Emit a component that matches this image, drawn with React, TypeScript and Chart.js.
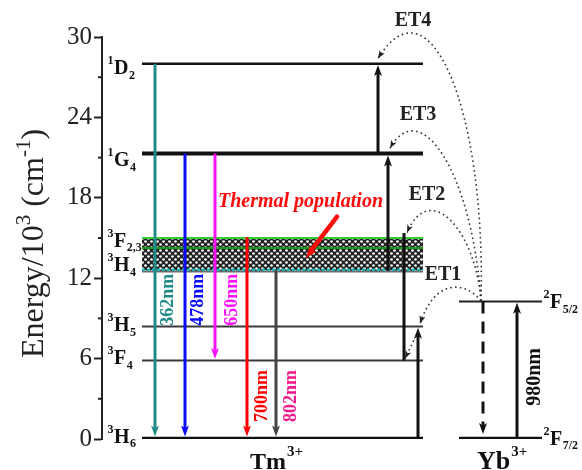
import React, { useEffect, useRef } from "react";
import { Chart, registerables } from "chart.js";
Chart.register(...registerables);

const SERIF = '"Liberation Serif", "Times New Roman", serif';

// ---------------- data ----------------
const yTickValues = [0, 6, 12, 18, 24, 30];
const yMinorValues = [3, 9, 15, 21, 27];

// Tm3+ energy levels (10^3 cm^-1); ids are sup + term + sub
const tmLevels = ["3H6", "3F4", "3H5", "3H4", "3F2,3", "1G4", "1D2"];
const tmEnergies = [0, 5.85, 8.4, 12.55, 15.0, 21.3, 28.0];
const bandSplitEnergy = 14.25;

// Yb3+ levels
const ybLevels = ["2F7/2", "2F5/2"];
const ybEnergies = [0, 10.26];

// radiative emissions of Tm3+
const emissionLabels = ["362nm", "478nm", "650nm", "700nm", "802nm"];
const emissionUpper = ["1D2", "1G4", "1G4", "3F2,3", "3H4"];
const emissionLower = ["3H6", "3H6", "3F4", "3H6", "3H6"];

// energy transfer steps Yb -> Tm
const etLabels = ["ET1", "ET2", "ET3", "ET4"];
const etLower = ["3H6", "3F4", "3H4", "1G4"];
const etUpper = ["3H5", "3F2,3", "1G4", "1D2"];

const pumpLabel = "980nm";
const thermalLabel = "Thermal population";
const ionLabels = ["Tm", "Yb"];

// ---------------- layout / styles (plot x units, 0..470) ----------------
const L = {
  tmSpan: [40, 321],
  ybSpan: [357, 440],
  emissionX: [53, 83, 113, 145, 174],
  emissionColor: ["#1f8a86", "#0a0aff", "#ff10ff", "#ff0000", "#454545"],
  emissionTextColor: ["#1f8a86", "#0a0aff", "#ff10ff", "#ff0000", "#f0188c"],
  emissionLabelX: [66, 96, 130, 160, 189],
  emissionLabelE: [10.4, 10.4, 10.4, 3.2, 3.2],
  etX: [316, 302, 286, 276],
  etLabelPos: [[341, 12.25], [325, 18.2], [316, 24.2], [311, 31.2]],
  etArcs: [
    [[379, 10.3], [363, 11.8], [333, 12.0], [318, 8.6]],
    [[379, 10.3], [374, 15.5], [328, 19.4], [305, 15.4]],
    [[379, 10.3], [370, 20.0], [318, 25.7], [288, 21.7]],
    [[379, 10.3], [384, 24.5], [328, 34.7], [276, 28.4]],
  ],
  relax: [[316, 8.0], [303, 6.0]],
  ybDownX: 381,
  ybUpX: 415,
  pumpLabelPos: [433, 4.63],
  thermalPos: [116, 17.34],
  thermalArrow: [[235, 16.6], [204, 13.5]],
  ionPos: [[148, -2.25], [375, -2.25]],
  levelWidth: { "3H6": 4.5, "3F4": 2, "3H5": 2, "1G4": 4, "1D2": 2.5, "2F7/2": 4.5, "2F5/2": 2 },
  levelColor: { "3H6": "#111", "3F4": "#3a3a3a", "3H5": "#3a3a3a", "1G4": "#111", "1D2": "#111", "2F7/2": "#111", "2F5/2": "#222" },
  labelOffsetPx: { "3H6": -3, "3F4": -3, "3H5": -2, "3H4": -6, "3F2,3": 2, "1G4": 6, "1D2": 3.5 },
};

const E = (id: string) => {
  const i = tmLevels.indexOf(id);
  return i >= 0 ? tmEnergies[i] : ybEnergies[ybLevels.indexOf(id)];
};

function splitTerm(id: string) {
  return { sup: id[0], main: id[1], sub: id.slice(2) };
}

function drawTerm(ctx: CanvasRenderingContext2D, x: number, cy: number, id: string, mainSize: number, small: number) {
  const { sup, main, sub } = splitTerm(id);
  const base = cy + mainSize * 0.33;
  ctx.textBaseline = "alphabetic";
  ctx.textAlign = "left";
  ctx.fillStyle = "#111";
  ctx.font = `bold ${small}px ${SERIF}`;
  const sw = ctx.measureText(sup).width;
  ctx.fillText(sup, x - sw - 0.5, base - mainSize * 0.5);
  ctx.font = `bold ${mainSize}px ${SERIF}`;
  ctx.fillText(main, x, base);
  const mw = ctx.measureText(main).width;
  ctx.font = `bold ${small}px ${SERIF}`;
  ctx.fillText(sub, x + mw + 0.5, base + small * 0.4);
}

function arrowV(ctx: CanvasRenderingContext2D, x: number, y0: number, y1: number, color: string, lw: number, head = 11, hw = 8, dash?: number[]) {
  const dir = Math.sign(y1 - y0);
  ctx.save();
  ctx.strokeStyle = color;
  ctx.fillStyle = color;
  ctx.lineWidth = lw;
  if (dash) ctx.setLineDash(dash);
  ctx.beginPath();
  ctx.moveTo(x, y0);
  ctx.lineTo(x, y1 - dir * head * 0.7);
  ctx.stroke();
  ctx.setLineDash([]);
  ctx.beginPath();
  ctx.moveTo(x, y1);
  ctx.lineTo(x - hw / 2, y1 - dir * head);
  ctx.lineTo(x, y1 - dir * head * 0.75);
  ctx.lineTo(x + hw / 2, y1 - dir * head);
  ctx.closePath();
  ctx.fill();
  ctx.restore();
}

function headAt(ctx: CanvasRenderingContext2D, fx: number, fy: number, tx: number, ty: number, len: number, hw: number, color: string) {
  const a = Math.atan2(ty - fy, tx - fx);
  ctx.save();
  ctx.fillStyle = color;
  ctx.translate(tx, ty);
  ctx.rotate(a);
  ctx.beginPath();
  ctx.moveTo(0, 0);
  ctx.lineTo(-len, -hw);
  ctx.lineTo(-len * 0.75, 0);
  ctx.lineTo(-len, hw);
  ctx.closePath();
  ctx.fill();
  ctx.restore();
}

function vText(ctx: CanvasRenderingContext2D, text: string, x: number, y: number, font: string, color: string) {
  ctx.save();
  ctx.translate(x, y);
  ctx.rotate(-Math.PI / 2);
  ctx.font = font;
  ctx.fillStyle = color;
  ctx.textAlign = "center";
  ctx.textBaseline = "middle";
  ctx.fillText(text, 0, 0);
  ctx.restore();
}

function makePattern(ctx: CanvasRenderingContext2D) {
  const c = document.createElement("canvas");
  c.width = 6;
  c.height = 6;
  const p = c.getContext("2d")!;
  p.fillStyle = "#222";
  p.fillRect(0, 0, 6, 6);
  p.fillStyle = "#ffffff";
  for (const [cx, cy] of [[1.5, 1.5], [4.5, 4.5]]) {
    p.beginPath();
    p.arc(cx, cy, 1.35, 0, Math.PI * 2);
    p.fill();
  }
  return ctx.createPattern(c, "repeat")!;
}

const diagramPlugin = {
  id: "diagram",
  beforeDatasetsDraw(chart: any) {
    const { ctx } = chart;
    const xs = chart.scales.x, ys = chart.scales.y;
    const px = (v: number) => xs.getPixelForValue(v);
    const py = (v: number) => ys.getPixelForValue(v);
    const x0 = px(L.tmSpan[0]), x1 = px(L.tmSpan[1]);
    const top = py(E("3F2,3")), bot = py(E("3H4"));
    ctx.save();
    ctx.fillStyle = makePattern(ctx);
    ctx.fillRect(x0, top, x1 - x0, bot - top);
    ctx.lineWidth = 2;
    ctx.strokeStyle = "#2fcf2f";
    ctx.beginPath(); ctx.moveTo(x0, top); ctx.lineTo(x1, top); ctx.stroke();
    ctx.strokeStyle = "#169a16";
    ctx.beginPath(); ctx.moveTo(x0, py(bandSplitEnergy)); ctx.lineTo(x1, py(bandSplitEnergy)); ctx.stroke();
    ctx.strokeStyle = "#222";
    ctx.lineWidth = 1;
    ctx.beginPath(); ctx.moveTo(x0, bot + 1); ctx.lineTo(x1, bot + 1); ctx.stroke();
    ctx.strokeStyle = "#1bb8b8";
    ctx.lineWidth = 2.5;
    ctx.setLineDash([3, 2]);
    ctx.beginPath(); ctx.moveTo(x0, bot - 1); ctx.lineTo(x1, bot - 1); ctx.stroke();
    ctx.restore();
  },
  afterDatasetsDraw(chart: any) {
    const { ctx } = chart;
    const xs = chart.scales.x, ys = chart.scales.y;
    const px = (v: number) => xs.getPixelForValue(v);
    const py = (v: number) => ys.getPixelForValue(v);

    // minor ticks
    ctx.save();
    ctx.strokeStyle = "#222";
    ctx.lineWidth = 2;
    for (const v of yMinorValues) {
      ctx.beginPath();
      ctx.moveTo(chart.chartArea.left - 4, py(v));
      ctx.lineTo(chart.chartArea.left, py(v));
      ctx.stroke();
    }
    ctx.restore();

    // axis title
    ctx.save();
    ctx.translate(43, 243.5);
    ctx.rotate(-Math.PI / 2);
    ctx.fillStyle = "#222";
    ctx.textBaseline = "alphabetic";
    ctx.textAlign = "left";
    const big = `32px ${SERIF}`, sm = `21px ${SERIF}`;
    const parts: [string, string, number][] = [["Energy/10", big, 0], ["3", sm, -13], [" (cm", big, 0], ["-1", sm, -13], [")", big, 0]];
    let tw = 0;
    for (const [t, f] of parts) { ctx.font = f; tw += ctx.measureText(t).width; }
    let cx = -tw / 2;
    for (const [t, f, dy] of parts) { ctx.font = f; ctx.fillText(t, cx, dy); cx += ctx.measureText(t).width; }
    ctx.restore();

    // level labels
    tmLevels.forEach((id, i) => {
      drawTerm(ctx, 114, py(tmEnergies[i]) + (L.labelOffsetPx as any)[id], id, 20, 12);
    });
    ybLevels.forEach((id, i) => {
      drawTerm(ctx, 550, py(ybEnergies[i]) + (i === 0 ? -1 : 0), id, 20, 12);
    });

    // emission arrows
    emissionLabels.forEach((lab, i) => {
      const x = px(L.emissionX[i]);
      const up = E(emissionUpper[i]);
      const lo = E(emissionLower[i]);
      const yStart = py(up) + (emissionUpper[i] === "3F2,3" ? -1 : 0);
      const yEnd = py(lo) - (emissionLower[i] === "3H6" ? 2.5 : 1.5);
      arrowV(ctx, x, yStart, yEnd, L.emissionColor[i], 3, 11, 8);
      vText(ctx, lab, px(L.emissionLabelX[i]), py(L.emissionLabelE[i]), `bold 18px ${SERIF}`, L.emissionTextColor[i]);
    });

    // ET up arrows
    etLabels.forEach((lab, i) => {
      const x = px(L.etX[i]);
      const lo = py(E(etLower[i]));
      const hi = py(E(etUpper[i]));
      if (lab === "ET2") {
        ctx.save();
        ctx.strokeStyle = "#111";
        ctx.lineWidth = 3;
        ctx.beginPath(); ctx.moveTo(x, lo); ctx.lineTo(x, hi - 5); ctx.stroke();
        ctx.restore();
      } else {
        const tipOff = etUpper[i] === "1G4" ? 2 : 1.2;
        arrowV(ctx, x, lo, hi + tipOff, "#111", 3, 11, 8);
      }
    });

    // dotted ET arcs
    L.etArcs.forEach((pts, i) => {
      const P = pts.map(([a, b]) => [px(a), py(b)]);
      ctx.save();
      ctx.strokeStyle = "#333";
      ctx.lineWidth = 1.6;
      ctx.setLineDash([1.6, 3.2]);
      ctx.beginPath();
      ctx.moveTo(P[0][0], P[0][1]);
      ctx.bezierCurveTo(P[1][0], P[1][1], P[2][0], P[2][1], P[3][0], P[3][1]);
      ctx.stroke();
      ctx.restore();
      headAt(ctx, P[2][0], P[2][1], P[3][0], P[3][1], 8, 3, "#222");
      const [lx, le] = L.etLabelPos[i];
      ctx.save();
      ctx.font = `bold 20px ${SERIF}`;
      ctx.fillStyle = "#222";
      ctx.textAlign = "center";
      ctx.textBaseline = "middle";
      ctx.fillText(etLabels[i], px(lx), py(le));
      ctx.restore();
    });
    // relaxation dotted
    {
      const [[a, b], [c, d]] = L.relax;
      ctx.save();
      ctx.strokeStyle = "#333";
      ctx.lineWidth = 1.6;
      ctx.setLineDash([1.6, 3.2]);
      ctx.beginPath(); ctx.moveTo(px(a), py(b)); ctx.lineTo(px(c), py(d)); ctx.stroke();
      ctx.restore();
      headAt(ctx, px(a), py(b), px(c), py(d), 8, 3, "#222");
    }

    // Yb arrows
    arrowV(ctx, px(L.ybDownX), py(ybEnergies[1]), py(ybEnergies[0]) - 5, "#111", 3, 11, 8, [12, 8]);
    arrowV(ctx, px(L.ybUpX), py(ybEnergies[0]), py(ybEnergies[1]) + 1.2, "#111", 3, 11, 8);
    vText(ctx, pumpLabel, px(L.pumpLabelPos[0]), py(L.pumpLabelPos[1]), `bold 20px ${SERIF}`, "#111");

    // Thermal population
    ctx.save();
    ctx.font = `italic bold 20px ${SERIF}`;
    ctx.fillStyle = "#ff0a0a";
    ctx.textAlign = "left";
    ctx.textBaseline = "alphabetic";
    ctx.fillText(thermalLabel, px(L.thermalPos[0]), py(L.thermalPos[1]));
    const [[ta, tb], [tc, td]] = L.thermalArrow;
    ctx.strokeStyle = "#ff0a0a";
    ctx.lineWidth = 4.5;
    ctx.lineCap = "round";
    ctx.beginPath(); ctx.moveTo(px(ta), py(tb)); ctx.lineTo(px(tc) + 4, py(td) - 6); ctx.stroke();
    ctx.restore();
    headAt(ctx, px(ta), py(tb), px(tc), py(td), 12, 4.5, "#ff0a0a");

    // ion labels
    ionLabels.forEach((t, i) => {
      const [ix, ie] = L.ionPos[i];
      const size = i === 0 ? 24 : 26;
      ctx.save();
      ctx.fillStyle = "#111";
      ctx.textAlign = "left";
      ctx.textBaseline = "alphabetic";
      ctx.font = `bold ${size}px ${SERIF}`;
      const x = px(ix), y = py(ie);
      ctx.fillText(t, x, y);
      const w = ctx.measureText(t).width;
      ctx.font = `bold 15px ${SERIF}`;
      ctx.fillText("3+", x + w + 1, y - 13);
      ctx.restore();
    });
  },
};

export default function App() {
  const ref = useRef<HTMLCanvasElement | null>(null);
  useEffect(() => {
    if (!ref.current) return;
    const levelSets: any[] = [];
    const addLevel = (id: string, e: number, span: number[]) => {
      levelSets.push({
        label: id,
        data: [{ x: span[0], y: e }, { x: span[1], y: e }],
        borderColor: (L.levelColor as any)[id],
        borderWidth: (L.levelWidth as any)[id],
        pointRadius: 0,
        fill: false,
        tension: 0,
      });
    };
    tmLevels.forEach((id, i) => {
      if (id === "3H4" || id === "3F2,3") return;
      addLevel(id, tmEnergies[i], L.tmSpan);
    });
    ybLevels.forEach((id, i) => addLevel(id, ybEnergies[i], L.ybSpan));

    const chart = new Chart(ref.current, {
      type: "line",
      data: { datasets: levelSets },
      options: {
        responsive: false,
        animation: false,
        devicePixelRatio: 1,
        layout: { padding: { left: 0, right: 10, top: 37, bottom: 31 } },
        plugins: { legend: { display: false }, tooltip: { enabled: false } },
        scales: {
          x: { type: "linear", min: 0, max: 470, display: false },
          y: {
            type: "linear",
            min: 0,
            max: 30,
            afterFit: (s: any) => { s.width = 102; },
            afterBuildTicks: (s: any) => { s.ticks = yTickValues.map((v) => ({ value: v })); },
            ticks: {
              font: { family: SERIF, size: 25 },
              color: "#222",
              padding: 2,
              callback: (v: any) => String(v),
            },
            grid: { drawOnChartArea: false, drawTicks: true, tickLength: 8, tickColor: "#222", tickWidth: 2 },
            border: { display: true, color: "#222", width: 2 },
          },
        },
      } as any,
      plugins: [diagramPlugin],
    });
    return () => chart.destroy();
  }, []);
  return (
    <div style={{ position: "fixed", left: 0, top: 0, width: 582, height: 470, background: "#fff" }}>
      <canvas ref={ref} width={582} height={470} />
    </div>
  );
}
